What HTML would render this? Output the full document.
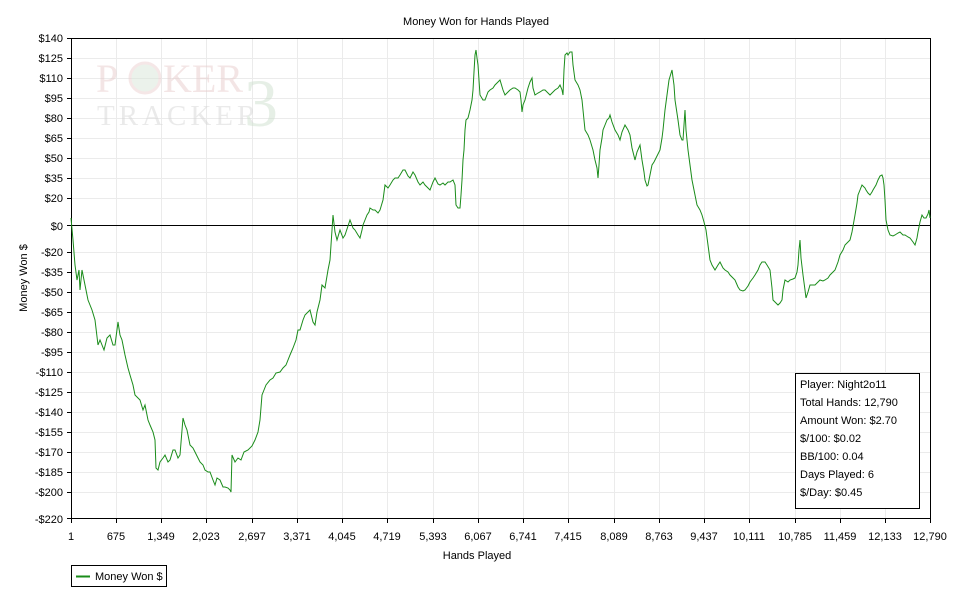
<!DOCTYPE html>
<html><head><meta charset="utf-8"><style>
body{margin:0;background:#fff;}
svg text{font-family:"Liberation Sans","DejaVu Sans",sans-serif;font-size:11px;fill:#000;}
</style></head><body>
<svg width="954" height="604" xmlns="http://www.w3.org/2000/svg">
<rect width="954" height="604" fill="#fff"/>
<text x="476" y="25" text-anchor="middle">Money Won for Hands Played</text>
<g stroke="#ebebeb" stroke-width="1">
<line x1="71" y1="58.5" x2="930" y2="58.5"/><line x1="71" y1="78.5" x2="930" y2="78.5"/><line x1="71" y1="98.5" x2="930" y2="98.5"/><line x1="71" y1="118.5" x2="930" y2="118.5"/><line x1="71" y1="138.5" x2="930" y2="138.5"/><line x1="71" y1="158.5" x2="930" y2="158.5"/><line x1="71" y1="178.5" x2="930" y2="178.5"/><line x1="71" y1="198.5" x2="930" y2="198.5"/>
<line x1="71" y1="252.5" x2="930" y2="252.5"/><line x1="71" y1="272.5" x2="930" y2="272.5"/><line x1="71" y1="292.5" x2="930" y2="292.5"/><line x1="71" y1="312.5" x2="930" y2="312.5"/><line x1="71" y1="332.5" x2="930" y2="332.5"/><line x1="71" y1="352.5" x2="930" y2="352.5"/><line x1="71" y1="372.5" x2="930" y2="372.5"/><line x1="71" y1="392.5" x2="930" y2="392.5"/><line x1="71" y1="412.5" x2="930" y2="412.5"/><line x1="71" y1="432.5" x2="930" y2="432.5"/><line x1="71" y1="452.5" x2="930" y2="452.5"/><line x1="71" y1="472.5" x2="930" y2="472.5"/><line x1="71" y1="492.5" x2="930" y2="492.5"/>
<line x1="116.5" y1="38" x2="116.5" y2="518"/><line x1="161.5" y1="38" x2="161.5" y2="518"/><line x1="206.5" y1="38" x2="206.5" y2="518"/><line x1="252.5" y1="38" x2="252.5" y2="518"/><line x1="297.5" y1="38" x2="297.5" y2="518"/><line x1="342.5" y1="38" x2="342.5" y2="518"/><line x1="387.5" y1="38" x2="387.5" y2="518"/><line x1="433.5" y1="38" x2="433.5" y2="518"/><line x1="478.5" y1="38" x2="478.5" y2="518"/><line x1="523.5" y1="38" x2="523.5" y2="518"/><line x1="568.5" y1="38" x2="568.5" y2="518"/><line x1="614.5" y1="38" x2="614.5" y2="518"/><line x1="659.5" y1="38" x2="659.5" y2="518"/><line x1="704.5" y1="38" x2="704.5" y2="518"/><line x1="749.5" y1="38" x2="749.5" y2="518"/><line x1="795.5" y1="38" x2="795.5" y2="518"/><line x1="840.5" y1="38" x2="840.5" y2="518"/><line x1="885.5" y1="38" x2="885.5" y2="518"/>
</g>
<g opacity="0.5">
<text x="96" y="92" style="font-family:'Liberation Serif',serif;font-size:40px;fill:#e8cccc">P</text>
<circle cx="145" cy="78" r="15" fill="#d9e6d9" stroke="#ecd0d0" stroke-width="3"/>
<text x="163" y="92" style="font-family:'Liberation Serif',serif;font-size:40px;fill:#e8cccc">KER</text>
<text x="97" y="125" style="font-family:'Liberation Serif',serif;font-size:29px;letter-spacing:4px;fill:#d6d6d6">TRACKER</text>
<text x="244" y="126" style="font-family:'Liberation Serif',serif;font-size:68px;fill:#cfe0cf">3</text>
</g>
<line x1="71" y1="38.5" x2="931" y2="38.5" stroke="#000"/>
<line x1="930.5" y1="38" x2="930.5" y2="518" stroke="#000"/>
<line x1="71.5" y1="38" x2="71.5" y2="519" stroke="#000"/>
<line x1="71" y1="518.5" x2="931" y2="518.5" stroke="#000"/>
<line x1="71" y1="225.5" x2="930" y2="225.5" stroke="#000"/>
<g stroke="#000">
<line x1="67" y1="38.5" x2="71" y2="38.5"/><line x1="67" y1="58.5" x2="71" y2="58.5"/><line x1="67" y1="78.5" x2="71" y2="78.5"/><line x1="67" y1="98.5" x2="71" y2="98.5"/><line x1="67" y1="118.5" x2="71" y2="118.5"/><line x1="67" y1="138.5" x2="71" y2="138.5"/><line x1="67" y1="158.5" x2="71" y2="158.5"/><line x1="67" y1="178.5" x2="71" y2="178.5"/><line x1="67" y1="198.5" x2="71" y2="198.5"/><line x1="67" y1="225.5" x2="71" y2="225.5"/><line x1="67" y1="252.5" x2="71" y2="252.5"/><line x1="67" y1="272.5" x2="71" y2="272.5"/><line x1="67" y1="292.5" x2="71" y2="292.5"/><line x1="67" y1="312.5" x2="71" y2="312.5"/><line x1="67" y1="332.5" x2="71" y2="332.5"/><line x1="67" y1="352.5" x2="71" y2="352.5"/><line x1="67" y1="372.5" x2="71" y2="372.5"/><line x1="67" y1="392.5" x2="71" y2="392.5"/><line x1="67" y1="412.5" x2="71" y2="412.5"/><line x1="67" y1="432.5" x2="71" y2="432.5"/><line x1="67" y1="452.5" x2="71" y2="452.5"/><line x1="67" y1="472.5" x2="71" y2="472.5"/><line x1="67" y1="492.5" x2="71" y2="492.5"/><line x1="67" y1="518.5" x2="71" y2="518.5"/>
<line x1="71.5" y1="518" x2="71.5" y2="523"/><line x1="116.5" y1="518" x2="116.5" y2="523"/><line x1="161.5" y1="518" x2="161.5" y2="523"/><line x1="206.5" y1="518" x2="206.5" y2="523"/><line x1="252.5" y1="518" x2="252.5" y2="523"/><line x1="297.5" y1="518" x2="297.5" y2="523"/><line x1="342.5" y1="518" x2="342.5" y2="523"/><line x1="387.5" y1="518" x2="387.5" y2="523"/><line x1="433.5" y1="518" x2="433.5" y2="523"/><line x1="478.5" y1="518" x2="478.5" y2="523"/><line x1="523.5" y1="518" x2="523.5" y2="523"/><line x1="568.5" y1="518" x2="568.5" y2="523"/><line x1="614.5" y1="518" x2="614.5" y2="523"/><line x1="659.5" y1="518" x2="659.5" y2="523"/><line x1="704.5" y1="518" x2="704.5" y2="523"/><line x1="749.5" y1="518" x2="749.5" y2="523"/><line x1="795.5" y1="518" x2="795.5" y2="523"/><line x1="840.5" y1="518" x2="840.5" y2="523"/><line x1="885.5" y1="518" x2="885.5" y2="523"/><line x1="930.5" y1="518" x2="930.5" y2="523"/>
</g>
<g text-anchor="end">
<text x="63" y="42">$140</text><text x="63" y="62">$125</text><text x="63" y="82">$110</text><text x="63" y="102">$95</text><text x="63" y="122">$80</text><text x="63" y="142">$65</text><text x="63" y="162">$50</text><text x="63" y="182">$35</text><text x="63" y="202">$20</text><text x="63" y="230">$0</text><text x="63" y="256">-$20</text><text x="63" y="276">-$35</text><text x="63" y="296">-$50</text><text x="63" y="316">-$65</text><text x="63" y="336">-$80</text><text x="63" y="356">-$95</text><text x="63" y="376">-$110</text><text x="63" y="396">-$125</text><text x="63" y="416">-$140</text><text x="63" y="436">-$155</text><text x="63" y="456">-$170</text><text x="63" y="476">-$185</text><text x="63" y="496">-$200</text><text x="63" y="523">-$220</text>
</g>
<g text-anchor="middle">
<text x="71" y="540">1</text><text x="116" y="540">675</text><text x="161" y="540">1,349</text><text x="206" y="540">2,023</text><text x="252" y="540">2,697</text><text x="297" y="540">3,371</text><text x="342" y="540">4,045</text><text x="387" y="540">4,719</text><text x="433" y="540">5,393</text><text x="478" y="540">6,067</text><text x="523" y="540">6,741</text><text x="568" y="540">7,415</text><text x="614" y="540">8,089</text><text x="659" y="540">8,763</text><text x="704" y="540">9,437</text><text x="749" y="540">10,111</text><text x="795" y="540">10,785</text><text x="840" y="540">11,459</text><text x="885" y="540">12,133</text><text x="930" y="540">12,790</text>
<text x="477" y="559">Hands Played</text>
<text x="0" y="0" transform="translate(27,278) rotate(-90)">Money Won $</text>
</g>
<polyline fill="none" stroke="#1a8c1a" stroke-width="1" points="71,218 73,240 75,265 77,280 79,270 80,290 82,270 85,285 88,300 92,310 95,320 98,345 100,340 104,350 107,338 110,335 113,345 115,345 118,322 120,335 122,340 125,355 128,368 130,375 133,385 135,395 138,398 140,400 143,410 145,405 148,420 150,425 153,432 155,440 156,468 158,470 160,462 163,458 165,455 168,462 170,460 173,450 175,450 178,458 180,455 183,418 185,425 187,430 190,445 193,448 195,452 198,458 200,462 203,465 205,470 208,472 210,472 213,480 215,485 217,478 220,480 223,487 225,487 228,488 230,490 231,492 232,455 235,462 238,458 241,460 244,452 248,450 252,446 255,440 258,432 260,420 262,395 264,390 266,385 270,380 273,378 276,373 280,372 283,368 286,365 290,355 293,348 296,340 298,330 300,330 303,320 305,315 308,312 310,310 313,322 315,325 317,312 320,300 322,285 325,288 328,270 330,260 332,230 333,215 335,232 337,240 340,230 343,238 345,235 348,226 350,220 353,228 355,230 358,235 360,238 362,230 363,225 365,220 367,215 369,212 370,208 373,210 375,210 378,213 380,210 383,200 385,185 388,188 390,185 393,180 395,178 398,178 400,175 403,170 405,170 408,176 410,178 413,172 415,175 418,182 420,185 423,182 425,185 428,188 430,190 433,182 435,178 438,184 440,185 443,183 445,185 448,182 450,182 453,180 455,185 456,205 458,208 460,208 461,195 462,180 463,160 464,150 465,130 466,120 468,118 470,110 472,100 473,90 474,72 475,55 476,50 477,58 478,65 479,80 480,95 483,100 485,100 488,92 490,90 493,88 495,85 498,82 500,80 503,90 505,95 508,92 510,90 513,88 515,88 518,90 520,92 521,100 522,112 523,105 525,100 528,88 530,82 532,78 533,88 535,95 538,93 540,92 543,90 545,90 548,93 550,95 553,92 555,90 558,88 560,85 562,90 563,95 564,70 565,55 567,53 568,55 570,52 572,52 573,65 575,80 578,85 580,90 582,100 583,110 584,120 585,130 588,135 590,140 593,150 595,160 597,168 598,178 599,165 600,150 602,138 603,130 605,125 607,120 609,118 610,115 612,122 615,130 618,135 620,140 622,132 625,125 628,130 630,135 632,148 635,160 637,152 640,145 642,160 644,172 645,180 647,186 648,185 650,175 652,165 654,162 655,160 658,154 660,150 662,138 663,130 665,110 667,95 669,80 672,70 674,85 675,100 678,120 680,135 682,140 683,140 684,125 685,110 686,130 688,150 690,165 692,180 695,195 697,205 700,210 702,215 704,222 706,230 708,245 710,260 712,265 715,270 718,265 720,262 723,268 725,270 728,272 730,275 733,278 735,280 738,287 740,290 743,291 745,290 748,286 750,282 753,278 755,275 758,270 760,265 762,262 765,262 767,265 770,270 772,288 773,300 775,302 778,305 780,303 782,300 783,290 785,280 788,282 790,280 793,279 795,278 797,272 798,265 799,250 800,240 801,258 803,275 805,290 806,298 808,292 810,285 813,285 815,285 818,282 820,280 823,281 825,280 828,278 830,275 833,272 835,270 838,262 840,255 843,250 845,245 848,242 850,240 852,232 855,215 857,203 858,195 860,190 862,185 865,188 866,190 868,193 870,195 872,192 873,190 876,185 878,180 880,176 882,175 883,178 884,185 885,200 886,220 888,230 890,235 893,236 895,235 898,233 900,232 903,235 905,235 908,237 910,238 913,242 915,245 917,238 918,232 920,222 922,215 924,218 926,218 928,214 929,210 930,218"/>
<rect x="795.5" y="373.5" width="124" height="135" fill="#fff" stroke="#000"/>
<g>
<text x="800" y="388">Player: Night2o11</text>
<text x="800" y="406">Total Hands: 12,790</text>
<text x="800" y="424">Amount Won: $2.70</text>
<text x="800" y="442">$/100: $0.02</text>
<text x="800" y="460">BB/100: 0.04</text>
<text x="800" y="478">Days Played: 6</text>
<text x="800" y="496">$/Day: $0.45</text>
</g>
<rect x="71.5" y="565.5" width="95" height="21" fill="#fff" stroke="#000"/>
<line x1="76" y1="576.5" x2="90" y2="576.5" stroke="#1a8c1a" stroke-width="2"/>
<text x="95" y="580">Money Won $</text>
</svg>
</body></html>
